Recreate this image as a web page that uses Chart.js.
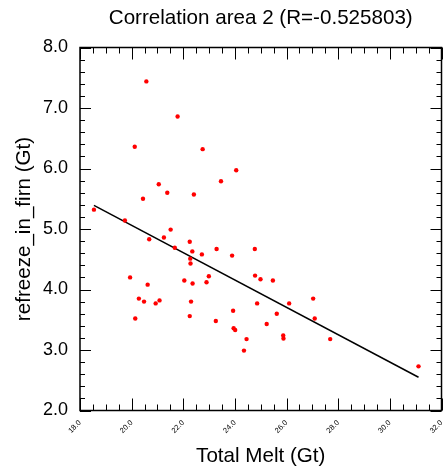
<!DOCTYPE html>
<html>
<head>
<meta charset="utf-8">
<script src="https://cdn.jsdelivr.net/npm/chart.js@4.4.1/dist/chart.umd.min.js"></script>
<style>
  html, body { margin: 0; padding: 0; background: #fff; }
  #wrap { width: 444px; height: 474px; }
</style>
</head>
<body>
<div id="wrap"><canvas id="corrChart" width="444" height="474"></canvas></div>
<script>
// values
const meltX = [18.54, 19.74, 20.57, 21.78, 20.12, 22.75, 24.05, 23.46, 21.05, 21.38,
  20.44, 22.41, 21.51, 20.68, 21.25, 21.67, 22.25, 22.35, 22.72, 23.29,
  23.89, 24.77, 22.27, 22.28, 19.94, 20.62, 22.04, 22.36, 22.99, 22.90,
  24.78, 24.99, 25.47, 20.28, 20.48, 20.93, 21.08, 22.30, 24.86, 23.93,
  20.14, 22.25, 23.26, 23.95, 24.01, 24.45, 24.35, 25.23, 25.62, 27.03,
  26.10, 27.09, 25.87, 25.88, 27.69, 31.11];
const refreezeY = [5.32, 5.14, 7.44, 6.86, 6.36, 6.32, 5.97, 5.79, 5.74, 5.60,
  5.50, 5.57, 4.99, 4.83, 4.86, 4.69, 4.79, 4.63, 4.58, 4.67,
  4.56, 4.67, 4.51, 4.43, 4.20, 4.08, 4.15, 4.10, 4.22, 4.12,
  4.23, 4.17, 4.15, 3.85, 3.80, 3.77, 3.82, 3.80, 3.77, 3.65,
  3.52, 3.56, 3.48, 3.36, 3.33, 3.18, 2.99, 3.43, 3.60, 3.85,
  3.77, 3.52, 3.24, 3.19, 3.18, 2.73];
const fitX = [18.54, 31.11];
const fitY = [5.39, 2.55];

const titleText = 'Correlation area 2 (R=-0.525803)';
const xTitle = 'Total Melt (Gt)';
const yTitle = 'refreeze_in_firn (Gt)';

const FONT = '"Liberation Sans", Arial, Helvetica, sans-serif';
Chart.defaults.font.family = FONT;
Chart.defaults.color = '#000';

function isMajor(v, step) {
  return Math.abs(v / step - Math.round(v / step)) < 1e-6;
}

// frame, inward tick marks on all four sides, and the title
const framePlugin = {
  id: 'frame',
  afterDraw(chart) {
    const c = chart.ctx;
    const a = chart.chartArea;
    const xs = chart.scales.x, ys = chart.scales.y;
    c.save();
    c.strokeStyle = '#000';
    c.lineWidth = 1;
    xs.ticks.forEach(t => {
      const px = Math.round(xs.getPixelForValue(t.value)) + 0.5;
      const len = isMajor(t.value, 2) ? 12 : 6;
      c.beginPath();
      c.moveTo(px, a.bottom); c.lineTo(px, a.bottom - len);
      c.moveTo(px, a.top); c.lineTo(px, a.top + len);
      c.stroke();
    });
    ys.ticks.forEach(t => {
      const py = Math.round(ys.getPixelForValue(t.value)) + 0.5;
      const len = isMajor(t.value, 1) ? 11 : 5;
      c.beginPath();
      c.moveTo(a.left, py); c.lineTo(a.left + len, py);
      c.moveTo(a.right, py); c.lineTo(a.right - len, py);
      c.stroke();
    });
    c.lineWidth = 1.5;
    c.strokeRect(a.left, a.top, a.right - a.left, a.bottom - a.top);

    c.fillStyle = '#000';
    c.font = '20.6px ' + FONT;
    c.textAlign = 'center';
    c.textBaseline = 'middle';
    c.fillText(titleText, (a.left + a.right) / 2, 18);
    c.restore();
  }
};

const ctx = document.getElementById('corrChart').getContext('2d');
const chart = new Chart(ctx, {
  type: 'scatter',
  data: {
    datasets: [{
      label: 'points',
      data: meltX.map((x, i) => ({ x: x, y: refreezeY[i] })),
      backgroundColor: '#ff0000',
      borderColor: '#ff0000',
      pointRadius: 2.2,
      pointHoverRadius: 2.2,
      borderWidth: 0
    }, {
      label: 'fit',
      data: fitX.map((x, i) => ({ x: x, y: fitY[i] })),
      showLine: true,
      borderColor: '#000',
      borderWidth: 1.5,
      pointRadius: 0,
      fill: false
    }]
  },
  options: {
    responsive: false,
    animation: false,
    layout: { padding: { left: 0, right: 2.5, top: 47.5, bottom: 0 } },
    plugins: {
      legend: { display: false },
      tooltip: { enabled: false },
      title: { display: false }
    },
    scales: {
      x: {
        type: 'linear',
        min: 18,
        max: 32,
        grid: { display: false, drawTicks: false },
        border: { display: false },
        ticks: {
          stepSize: 0.5,
          autoSkip: false,
          minRotation: 45,
          maxRotation: 45,
          padding: 8,
          font: { size: 7.5 },
          callback: v => isMajor(v, 2) ? v.toFixed(1) : ''
        },
        title: {
          display: true,
          text: xTitle,
          font: { size: 20.6 },
          padding: { top: 0, bottom: 5 }
        },
        afterFit: s => {
          s.height = 63.5;
          s.paddingLeft = 0;
          s.paddingRight = 0;
        }
      },
      y: {
        type: 'linear',
        min: 2,
        max: 8,
        grid: { display: false, drawTicks: false },
        border: { display: false },
        ticks: {
          stepSize: 0.2,
          autoSkip: false,
          padding: 12,
          font: { size: 18 },
          callback: v => isMajor(v, 1) ? v.toFixed(1) : ''
        },
        title: {
          display: true,
          text: yTitle,
          font: { size: 20.6 },
          padding: { top: 12, bottom: 0 }
        },
        afterFit: s => { s.width = 80; }
      }
    }
  },
  plugins: [framePlugin]
});
</script>
</body>
</html>
